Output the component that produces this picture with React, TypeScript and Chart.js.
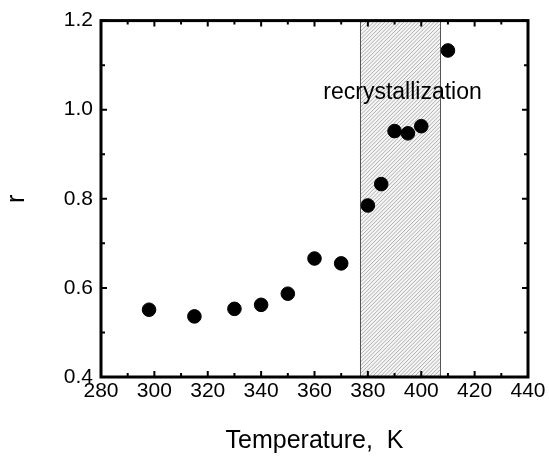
import React, { useEffect, useRef } from "react";
import { Chart, registerables } from "chart.js";

Chart.register(...registerables);

const temperatures = [298, 315, 330, 340, 350, 360, 370, 380, 385, 390, 395, 400, 410];
const rValues = [0.551, 0.536, 0.553, 0.562, 0.587, 0.666, 0.655, 0.785, 0.833, 0.952, 0.947, 0.963, 1.133];
const recrystRange = [377, 407];
const recrystLabel = "recrystallization";
const recrystLabelPos = [393, 1.024];
const xTitle = "Temperature,  K";
const yTitle = "r";

const FONT = "'Liberation Sans', Arial, Helvetica, sans-serif";

const framePlugin = {
  id: "frame",
  beforeDatasetsDraw(chart: any) {
    const { ctx, chartArea: a, scales } = chart;
    const xs = scales.x;
    const x0 = xs.getPixelForValue(recrystRange[0]);
    const x1 = xs.getPixelForValue(recrystRange[1]);
    ctx.save();
    ctx.beginPath();
    ctx.rect(x0, a.top, x1 - x0, a.bottom - a.top);
    ctx.clip();
    ctx.fillStyle = "#f6f6f6";
    ctx.fillRect(x0, a.top, x1 - x0, a.bottom - a.top);
    ctx.strokeStyle = "#9a9a9a";
    ctx.lineWidth = 0.8;
    const h = a.bottom - a.top;
    ctx.beginPath();
    for (let k = x0 - h; k < x1 + 4; k += 3.8) {
      ctx.moveTo(k, a.bottom);
      ctx.lineTo(k + h, a.top);
    }
    ctx.stroke();
    ctx.restore();
    ctx.save();
    ctx.strokeStyle = "#555";
    ctx.lineWidth = 1;
    ctx.beginPath();
    ctx.moveTo(Math.round(x0) + 0.5, a.top);
    ctx.lineTo(Math.round(x0) + 0.5, a.bottom);
    ctx.moveTo(Math.round(x1) + 0.5, a.top);
    ctx.lineTo(Math.round(x1) + 0.5, a.bottom);
    ctx.stroke();
    ctx.restore();
  },
  afterDatasetsDraw(chart: any) {
    const { ctx, chartArea: a, scales } = chart;
    const xs = scales.x;
    const ys = scales.y;
    ctx.save();
    ctx.fillStyle = "#000";
    ctx.font = `23px ${FONT}`;
    ctx.textAlign = "center";
    ctx.textBaseline = "alphabetic";
    ctx.fillText(recrystLabel, xs.getPixelForValue(recrystLabelPos[0]), ys.getPixelForValue(recrystLabelPos[1]));
    ctx.strokeStyle = "#000";
    ctx.lineWidth = 2;
    ctx.beginPath();
    xs.ticks.forEach((t: any) => {
      const major = Math.round(t.value) % 20 === 0;
      const len = major ? 6 : 4;
      const px = xs.getPixelForValue(t.value);
      ctx.moveTo(px, a.bottom);
      ctx.lineTo(px, a.bottom - len);
      ctx.moveTo(px, a.top);
      ctx.lineTo(px, a.top + len);
    });
    ys.ticks.forEach((t: any) => {
      const major = Math.round(t.value * 10) % 2 === 0;
      const len = major ? 6 : 4;
      const py = ys.getPixelForValue(t.value);
      ctx.moveTo(a.left, py);
      ctx.lineTo(a.left + len, py);
      ctx.moveTo(a.right, py);
      ctx.lineTo(a.right - len, py);
    });
    ctx.stroke();
    ctx.lineWidth = 3;
    ctx.strokeRect(a.left, a.top, a.right - a.left, a.bottom - a.top);
    ctx.restore();
  },
};

export default function App() {
  const ref = useRef<HTMLCanvasElement>(null);
  useEffect(() => {
    if (!ref.current) return;
    const chart = new Chart(ref.current, {
      type: "scatter",
      data: {
        datasets: [
          {
            data: temperatures.map((t, i) => ({ x: t, y: rValues[i] })),
            backgroundColor: "#000",
            borderColor: "#000",
            pointRadius: 6.8,
            pointHoverRadius: 6.8,
          },
        ],
      },
      options: {
        responsive: false,
        animation: false,
        events: [],
        layout: { padding: { left: 0, top: 13, right: 21, bottom: 0 } },
        plugins: { legend: { display: false }, tooltip: { enabled: false } },
        scales: {
          x: {
            type: "linear",
            min: 280,
            max: 440,
            afterFit: (s: any) => {
              s.height = 79;
            },
            grid: { display: false, drawTicks: false },
            border: { display: false },
            ticks: {
              stepSize: 10,
              autoSkip: false,
              maxRotation: 0,
              padding: 2,
              color: "#000",
              font: { family: FONT, size: 21 },
              callback: (v: any) => (Math.round(v) % 20 === 0 ? String(Math.round(v)) : ""),
            },
            title: {
              display: true,
              text: xTitle,
              color: "#000",
              font: { family: FONT, size: 25, lineHeight: 1.2 },
              padding: 0,
            },
          },
          y: {
            type: "linear",
            min: 0.4,
            max: 1.2,
            afterFit: (s: any) => {
              s.width = 101;
            },
            grid: { display: false, drawTicks: false },
            border: { display: false },
            ticks: {
              stepSize: 0.1,
              autoSkip: false,
              padding: 8,
              color: "#000",
              font: { family: FONT, size: 21 },
              callback: (v: any) => (Math.round(v * 10) % 2 === 0 ? Number(v).toFixed(1) : ""),
            },
            title: {
              display: true,
              text: yTitle,
              color: "#000",
              font: { family: FONT, size: 25, lineHeight: 1.1 },
              padding: { top: 3, bottom: 0 },
            },
          },
        },
      },
      plugins: [framePlugin],
    } as any);
    return () => chart.destroy();
  }, []);
  return (
    <div style={{ position: "absolute", left: 0, top: 0, width: 549, height: 456, background: "#fff" }}>
      <canvas ref={ref} width={549} height={456} style={{ display: "block" }} />
    </div>
  );
}
